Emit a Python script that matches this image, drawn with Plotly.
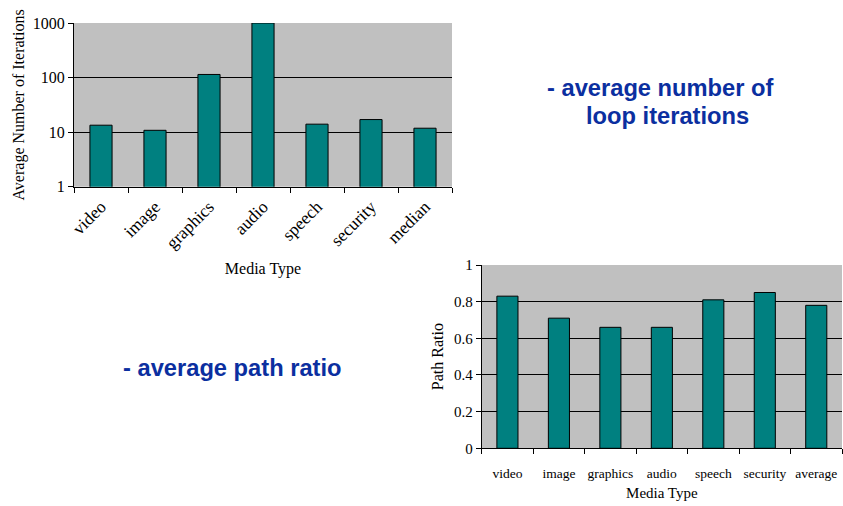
import plotly.graph_objects as go

# Average number of loop iterations per media type (log scale)
iter_categories = ["video", "image", "graphics", "audio", "speech", "security", "median"]
iter_values = [13.4, 10.8, 114, 1000, 14.0, 17.0, 11.8]

# Average path ratio per media type
ratio_categories = ["video", "image", "graphics", "audio", "speech", "security", "average"]
ratio_values = [0.83, 0.71, 0.66, 0.66, 0.81, 0.85, 0.78]

W, H = 843, 506
SERIF = "Liberation Serif, Times New Roman, serif"
SANS = "Liberation Sans, Arial, sans-serif"
TEAL = "#008080"
GREY = "#C0C0C0"
BLUE = "#0B2FA0"


def px(x):
    return x / W


def py(y):
    return 1 - y / H


fig = go.Figure()

fig.add_trace(go.Bar(
    x=iter_categories, y=iter_values, xaxis="x", yaxis="y",
    marker=dict(color=TEAL, line=dict(color="black", width=1)),
    showlegend=False,
))
fig.add_trace(go.Bar(
    x=ratio_categories, y=ratio_values, xaxis="x2", yaxis="y2",
    marker=dict(color=TEAL, line=dict(color="black", width=1)),
    showlegend=False,
))

line_style = dict(
    showline=True, linecolor="black", linewidth=1,
    ticks="outside", tickcolor="black", ticklen=5, tickwidth=1,
    automargin=False,
)

fig.update_layout(
    width=W, height=H,
    margin=dict(l=0, r=0, t=0, b=0),
    paper_bgcolor="white",
    plot_bgcolor=GREY,
    bargap=0.59,
    xaxis=dict(
        domain=[px(74), px(452)], anchor="y",
        type="category", tickson="boundaries", tickangle=-45,
        ticklabelstandoff=2,
        showgrid=False, zeroline=False,
        tickfont=dict(family=SERIF, size=17.5, color="black"),
        title=dict(text="Media Type", font=dict(family=SERIF, size=16, color="black"), standoff=10),
        **line_style,
    ),
    yaxis=dict(
        domain=[py(186.7), py(23)], anchor="x",
        type="log", range=[0, 3],
        tickvals=[1, 10, 100, 1000], ticktext=["1", "10", "100", "1000"],
        showgrid=True, gridcolor="black", gridwidth=1,
        zeroline=False,
        tickfont=dict(family=SERIF, size=16, color="black"),
        **line_style,
    ),
    xaxis2=dict(
        domain=[px(481.7), px(842)], anchor="y2",
        type="category", tickson="boundaries", tickangle=0,
        ticklabelstandoff=12,
        showgrid=False, zeroline=False,
        tickfont=dict(family=SERIF, size=13.5, color="black"),
        title=dict(text="Media Type", font=dict(family=SERIF, size=15, color="black"), standoff=7),
        **line_style,
    ),
    yaxis2=dict(
        domain=[py(448.3), py(265)], anchor="x2",
        range=[0, 1], dtick=0.2, tickformat="~g",
        showgrid=True, gridcolor="black", gridwidth=1,
        zeroline=False,
        tickfont=dict(family=SERIF, size=15, color="black"),
        title=dict(text="Path Ratio", font=dict(family=SERIF, size=16, color="black"), standoff=6),
        **line_style,
    ),
)

annotations = [
    dict(text="Average Number of Iterations", textangle=-90,
         x=px(18), y=py(203), xanchor="center", yanchor="bottom",
         font=dict(family=SERIF, size=16, color="black")),
    dict(text="<b>- average number of</b>", x=px(545), y=py(88),
         xanchor="left", yanchor="middle",
         font=dict(family=SANS, size=23.7, color=BLUE)),
    dict(text="<b>loop iterations</b>", x=px(584), y=py(116),
         xanchor="left", yanchor="middle",
         font=dict(family=SANS, size=23.7, color=BLUE)),
    dict(text="<b>- average path ratio</b>", x=px(121), y=py(368),
         xanchor="left", yanchor="middle",
         font=dict(family=SANS, size=23.7, color=BLUE)),
]
for a in annotations:
    a.update(xref="paper", yref="paper", showarrow=False)
fig.update_layout(annotations=annotations)

fig.write_html("out.html")
